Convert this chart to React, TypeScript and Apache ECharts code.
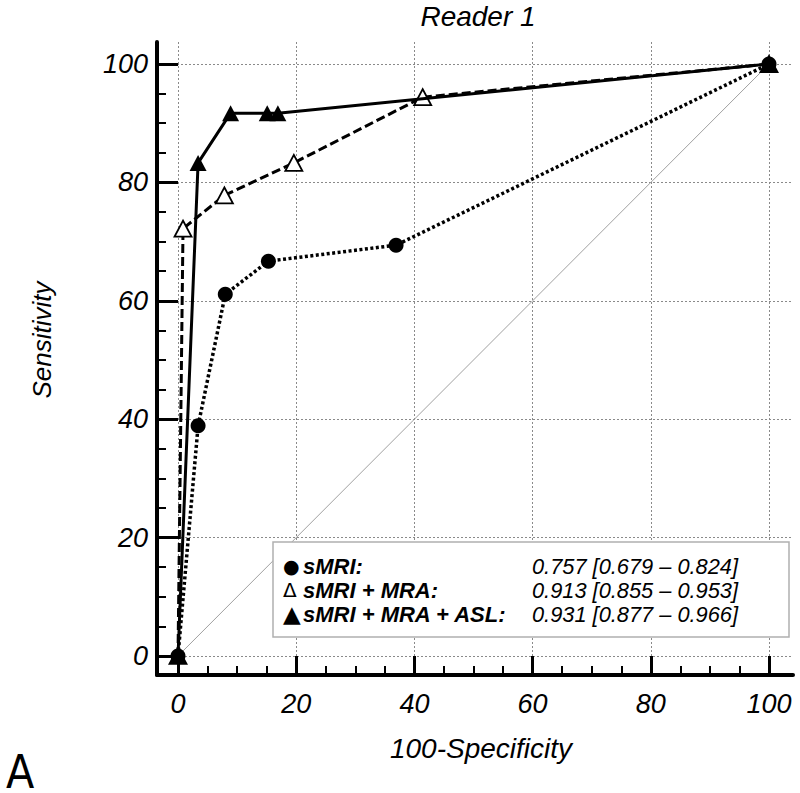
import React, { useEffect, useRef } from "react";
import * as echarts from "echarts";

// 100-Specificity (x) and Sensitivity (y) for each ROC curve
const specSMRI = [0, 3.4, 8.0, 15.3, 36.9, 100];
const sensSMRI = [0, 38.9, 61.1, 66.7, 69.4, 100];
const specMRA = [0, 0.85, 7.85, 19.6, 41.4, 100];
const sensMRA = [0, 72.2, 77.8, 83.3, 94.4, 100];
const specASL = [0, 3.4, 8.9, 15.1, 16.9, 100];
const sensASL = [0, 83.3, 91.7, 91.7, 91.7, 100];
const diagX = [0, 100];
const diagY = [0, 100];

const majorTicks = [0, 20, 40, 60, 80, 100];
const minorTicks = [5, 10, 15, 25, 30, 35, 45, 50, 55, 65, 70, 75, 85, 90, 95];

const legendMarkers = ["●", "Δ", "▲"];
const legendNames = ["sMRI:", "sMRI + MRA:", "sMRI + MRA + ASL:"];
const legendAUC = [
  "0.757 [0.679 – 0.824]",
  "0.913 [0.855 – 0.953]",
  "0.931 [0.877 – 0.966]",
];

const titleText = "Reader 1";
const xName = "100-Specificity";
const yName = "Sensitivity";
const panelLabel = "A";

const FONT = "'Liberation Sans', Arial, sans-serif";

const pairs = (xs: number[], ys: number[]) => xs.map((x, i) => [x, ys[i]]);

export default function App() {
  const ref = useRef<HTMLDivElement>(null);
  useEffect(() => {
    if (!ref.current) return;
    const chart = echarts.init(ref.current, null, { renderer: "svg" });
    const labelStyle = {
      fontFamily: FONT,
      fontStyle: "italic" as const,
      fontSize: 27,
      color: "#000",
    };
    const mainAxisCommon = {
      type: "value" as const,
      axisLine: { show: true, onZero: false, lineStyle: { color: "#000", width: 4 } },
      splitLine: { show: true, lineStyle: { color: "#8a8a8a", width: 1, type: [2, 2] as any } },
    };
    const minorAxisCommon = {
      type: "value" as const,
      axisLine: { show: false, onZero: false },
      splitLine: { show: false },
      axisLabel: { show: false },
      axisTick: {
        show: true,
        inside: true,
        length: 9,
        customValues: minorTicks,
        lineStyle: { color: "#000", width: 2 },
      },
    };
    const xMin = -3.553;
    const xMax = 104.06;
    const yMin = -3.21;
    const yMax = 103.72;

    const legendRows: any[] = [];
    const rowY = [566, 590, 614];
    const markerSizes = [19, 20, 23];
    legendMarkers.forEach((m, i) => {
      legendRows.push({
        type: "text",
        x: 283,
        y: rowY[i],
        z: 101,
        style: {
          text: m,
          fontSize: markerSizes[i],
          fontFamily: "'DejaVu Sans', sans-serif",
          fill: "#000",
          align: "left",
          verticalAlign: "middle",
        },
      });
      legendRows.push({
        type: "text",
        x: 303,
        y: rowY[i],
        z: 101,
        style: {
          text: legendNames[i],
          fontSize: 22,
          fontFamily: FONT,
          fontStyle: "italic",
          fontWeight: "bold",
          fill: "#000",
          align: "left",
          verticalAlign: "middle",
        },
      });
      legendRows.push({
        type: "text",
        x: 532,
        y: rowY[i],
        z: 101,
        style: {
          text: legendAUC[i],
          fontSize: 21.8,
          fontFamily: FONT,
          fontStyle: "italic",
          fill: "#000",
          align: "left",
          verticalAlign: "middle",
        },
      });
    });

    chart.setOption({
      animation: false,
      backgroundColor: "#fff",
      grid: { left: 157, right: 7, top: 42, bottom: 118, containLabel: false },
      xAxis: [
        {
          ...mainAxisCommon,
          min: xMin,
          max: xMax,
          position: "bottom",
          axisTick: {
            show: true,
            inside: true,
            length: 19,
            customValues: majorTicks,
            lineStyle: { color: "#000", width: 3 },
          },
          axisLabel: { ...labelStyle, margin: 15, customValues: majorTicks },
        },
        { ...minorAxisCommon, min: xMin, max: xMax, position: "bottom" },
      ],
      yAxis: [
        {
          ...mainAxisCommon,
          min: yMin,
          max: yMax,
          position: "left",
          axisTick: {
            show: true,
            inside: true,
            length: 21,
            customValues: majorTicks,
            lineStyle: { color: "#000", width: 3 },
          },
          axisLabel: { ...labelStyle, margin: 9, customValues: majorTicks },
        },
        { ...minorAxisCommon, min: yMin, max: yMax, position: "left" },
      ],
      series: [
        {
          type: "line",
          data: pairs(diagX, diagY),
          symbol: "none",
          lineStyle: { color: "#a0a0a0", width: 1 },
          z: 2,
        },
        {
          name: "sMRI",
          type: "line",
          data: pairs(specSMRI, sensSMRI),
          symbol: "circle",
          symbolSize: 15,
          itemStyle: { color: "#000" },
          lineStyle: { color: "#000", width: 3.5, type: [3, 2.5] as any },
          z: 3,
        },
        {
          name: "sMRI + MRA",
          type: "line",
          data: pairs(specMRA, sensMRA),
          symbol: "triangle",
          symbolSize: [17, 16],
          itemStyle: { color: "#fff", borderColor: "#000", borderWidth: 1.8 },
          lineStyle: { color: "#000", width: 3, type: [9, 4] as any },
          z: 4,
        },
        {
          name: "sMRI + MRA + ASL",
          type: "line",
          data: pairs(specASL, sensASL),
          symbol: "triangle",
          symbolSize: [17, 16],
          itemStyle: { color: "#000" },
          lineStyle: { color: "#000", width: 3 },
          z: 5,
        },
      ],
      graphic: [
        {
          type: "text",
          x: 478,
          y: 16,
          style: {
            text: titleText,
            fontSize: 28,
            fontFamily: FONT,
            fontStyle: "italic",
            fill: "#000",
            align: "center",
            verticalAlign: "middle",
          },
        },
        {
          type: "text",
          x: 481,
          y: 748,
          style: {
            text: xName,
            fontSize: 28,
            fontFamily: FONT,
            fontStyle: "italic",
            fill: "#000",
            align: "center",
            verticalAlign: "middle",
          },
        },
        {
          type: "text",
          x: 42,
          y: 340,
          rotation: Math.PI / 2,
          style: {
            text: yName,
            fontSize: 26,
            fontFamily: FONT,
            fontStyle: "italic",
            fill: "#000",
            align: "center",
            verticalAlign: "middle",
          },
        },
        {
          type: "text",
          x: 6,
          y: 772,
          style: {
            text: panelLabel,
            fontSize: 46,
            fontFamily: "'DejaVu Sans Condensed', 'Liberation Sans', sans-serif",
            fill: "#000",
            align: "left",
            verticalAlign: "middle",
          },
        },
        {
          type: "rect",
          z: 100,
          shape: { x: 273, y: 542, width: 516, height: 95 },
          style: { fill: "#fff", stroke: "#b0b0b0", lineWidth: 1.5 },
        },
        ...legendRows,
      ],
    });
    return () => chart.dispose();
  }, []);
  return (
    <div
      ref={ref}
      style={{ position: "fixed", left: 0, top: 0, width: 800, height: 793 }}
    />
  );
}
